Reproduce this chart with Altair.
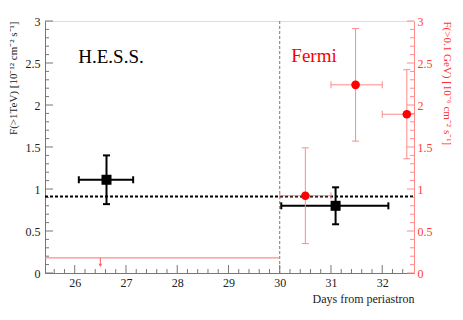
import altair as alt
import pandas as pd

# ---------------- data ----------------
hess_day = [26.62, 31.09]
hess_flux = [1.11, 0.80]
hess_xlo = [26.08, 30.03]
hess_xhi = [27.14, 32.12]
hess_ylo = [0.82, 0.58]
hess_yhi = [1.40, 1.02]

fermi_day = [30.50, 31.48, 32.48]
fermi_flux = [0.92, 2.24, 1.89]
fermi_xlo = [30.00, 31.00, 32.00]
fermi_xhi = [31.00, 32.00, 33.00]
fermi_ylo = [0.35, 1.57, 1.36]
fermi_yhi = [1.49, 2.91, 2.42]

ul_xlo, ul_xhi, ul_flux = [25.42], [30.0], [0.18]
arrow_day, arrow_top, arrow_bot = [26.5], [0.18], [0.09]

hess_mean = [0.91]
split_day = [30.0]

x_domain = [25.42, 32.62]
y_domain = [0, 3]
x_major = [26, 27, 28, 29, 30, 31, 32]
x_minor = [25.6, 25.8, 26.2, 26.4, 26.6, 26.8, 27.2, 27.4, 27.6, 27.8, 28.2, 28.4,
           28.6, 28.8, 29.2, 29.4, 29.6, 29.8, 30.2, 30.4, 30.6, 30.8, 31.2, 31.4,
           31.6, 31.8, 32.2, 32.4]
y_major = [0, 0.5, 1, 1.5, 2, 2.5, 3]
y_minor = [0.1, 0.2, 0.3, 0.4, 0.6, 0.7, 0.8, 0.9, 1.1, 1.2, 1.3, 1.4, 1.6, 1.7, 1.8,
           1.9, 2.1, 2.2, 2.3, 2.4, 2.6, 2.7, 2.8, 2.9]

W, H = 369, 252
FONT = "Liberation Serif"
RED = "#ff0000"
LRED = "#ff8a8a"
GRAY = "#777777"

hess = pd.DataFrame(dict(day=hess_day, flux=hess_flux, xlo=hess_xlo, xhi=hess_xhi,
                         ylo=hess_ylo, yhi=hess_yhi))
fermi = pd.DataFrame(dict(day=fermi_day, flux=fermi_flux, xlo=fermi_xlo, xhi=fermi_xhi,
                          ylo=fermi_ylo, yhi=fermi_yhi))
ul = pd.DataFrame(dict(xlo=ul_xlo, xhi=ul_xhi, flux=ul_flux))
arrow = pd.DataFrame(dict(day=arrow_day, top=arrow_top, bot=arrow_bot))
mean_df = pd.DataFrame(dict(flux=hess_mean))
split_df = pd.DataFrame(dict(day=split_day))
xmaj = pd.DataFrame(dict(v=x_major))
xmin_ = pd.DataFrame(dict(v=x_minor))
ymaj = pd.DataFrame(dict(v=y_major))
ymin_ = pd.DataFrame(dict(v=y_minor))

xs = alt.Scale(domain=x_domain, nice=False, zero=False)
ys = alt.Scale(domain=y_domain, nice=False, zero=False)

x_axis = alt.Axis(values=x_major, ticks=False, grid=False, domainColor=GRAY,
                  labelFont=FONT, labelFontSize=12, labelColor="#222",
                  labelPadding=4, title="Days from periastron", titleFont=FONT,
                  titleFontSize=12, titleFontWeight="normal", titleColor="#222",
                  titleAnchor="end", titlePadding=5, format="d")

left_axis = alt.Axis(values=y_major, ticks=False, grid=False, domainColor=GRAY,
                     labelFont=FONT, labelFontSize=12, labelColor="#222",
                     labelPadding=5, format="~g",
                     title="F(>1TeV) [10⁻¹² cm⁻² s⁻¹]", titleFont=FONT,
                     titleFontSize=11, titleFontWeight="normal", titleColor="#222",
                     titleAnchor="end", titlePadding=7)

right_axis = alt.Axis(orient="right", values=y_major, ticks=False, grid=False,
                      domainColor=LRED, labelFont=FONT, labelFontSize=12,
                      labelColor="#ff3a3a", labelPadding=3, format="~g",
                      title="F(>0.1 GeV) [10⁻⁶ cm⁻² s⁻¹]", titleFont=FONT,
                      titleFontSize=11, titleFontWeight="normal", titleColor="#ff3030",
                      titleAnchor="end", titleAlign="left", titlePadding=9)


def X(f):
    return alt.X(f, type="quantitative", scale=xs, axis=x_axis)


def YH(f):
    return alt.Y(f, type="quantitative", scale=ys, axis=left_axis)


def YF(f):
    return alt.Y(f, type="quantitative", scale=ys, axis=right_axis)


# ---------- HESS group (left axis) ----------
h_major = alt.Chart(ymaj).mark_rule(color=GRAY, strokeWidth=1).encode(
    y=YH("v:Q"), x=alt.value(0), x2=alt.value(8))
h_minor = alt.Chart(ymin_).mark_rule(color=GRAY, strokeWidth=1).encode(
    y=YH("v:Q"), x=alt.value(0), x2=alt.value(4))
x_maj_ticks = alt.Chart(xmaj).mark_rule(color=GRAY, strokeWidth=1).encode(
    x=X("v:Q"), y=alt.value(H), y2=alt.value(H - 8))
x_min_ticks = alt.Chart(xmin_).mark_rule(color=GRAY, strokeWidth=1).encode(
    x=X("v:Q"), y=alt.value(H), y2=alt.value(H - 4))
split_line = alt.Chart(split_df).mark_rule(color=GRAY, strokeWidth=1,
                                           strokeDash=[3, 2]).encode(
    x=X("day:Q"), y=alt.value(0), y2=alt.value(H))
mean_line = alt.Chart(mean_df).mark_rule(color="black", strokeWidth=2,
                                         strokeDash=[3, 2]).encode(
    y=YH("flux:Q"), x=alt.value(0), x2=alt.value(W))
h_xerr = alt.Chart(hess).mark_rule(color="black", strokeWidth=2).encode(
    x=X("xlo:Q"), x2="xhi:Q", y=YH("flux:Q"))
h_yerr = alt.Chart(hess).mark_rule(color="black", strokeWidth=2).encode(
    x=X("day:Q"), y=YH("ylo:Q"), y2="yhi:Q")
h_cap_xlo = alt.Chart(hess).mark_tick(orient="vertical", color="black", thickness=2,
                                      size=7, opacity=1).encode(
    x=X("xlo:Q"), y=YH("flux:Q"))
h_cap_xhi = alt.Chart(hess).mark_tick(orient="vertical", color="black", thickness=2,
                                      size=7, opacity=1).encode(
    x=X("xhi:Q"), y=YH("flux:Q"))
h_cap_ylo = alt.Chart(hess).mark_tick(orient="horizontal", color="black", thickness=2,
                                      size=7, opacity=1).encode(
    x=X("day:Q"), y=YH("ylo:Q"))
h_cap_yhi = alt.Chart(hess).mark_tick(orient="horizontal", color="black", thickness=2,
                                      size=7, opacity=1).encode(
    x=X("day:Q"), y=YH("yhi:Q"))
h_pts = alt.Chart(hess).mark_square(color="black", size=100, opacity=1).encode(
    x=X("day:Q"), y=YH("flux:Q"))
hess_text = alt.Chart(mean_df).mark_text(text="H.E.S.S.", font=FONT, fontSize=19,
                                         color="black", align="center",
                                         baseline="middle").encode(
    x=alt.value(66), y=alt.value(36))

hess_group = alt.layer(h_major, h_minor, x_maj_ticks, x_min_ticks, split_line,
                       mean_line, h_xerr, h_yerr, h_cap_xlo, h_cap_xhi, h_cap_ylo,
                       h_cap_yhi, h_pts, hess_text)

# ---------- Fermi group (right axis) ----------
f_major = alt.Chart(ymaj).mark_rule(color=LRED, strokeWidth=1).encode(
    y=YF("v:Q"), x=alt.value(W), x2=alt.value(W - 7))
f_minor = alt.Chart(ymin_).mark_rule(color=LRED, strokeWidth=1).encode(
    y=YF("v:Q"), x=alt.value(W), x2=alt.value(W - 4))
ul_line = alt.Chart(ul).mark_rule(color=LRED, strokeWidth=1.3).encode(
    x=X("xlo:Q"), x2="xhi:Q", y=YF("flux:Q"))
arrow_stem = alt.Chart(arrow).mark_rule(color="#ff6060", strokeWidth=1).encode(
    x=X("day:Q"), y=YF("top:Q"), y2="bot:Q")
arrow_head = alt.Chart(arrow).mark_point(shape="triangle-down", color="#ff6060",
                                         filled=True, size=14, opacity=1).encode(
    x=X("day:Q"), y=YF("bot:Q"))
f_xerr = alt.Chart(fermi).mark_rule(color=LRED, strokeWidth=1, clip=True).encode(
    x=X("xlo:Q"), x2="xhi:Q", y=YF("flux:Q"))
f_yerr = alt.Chart(fermi).mark_rule(color=LRED, strokeWidth=1).encode(
    x=X("day:Q"), y=YF("ylo:Q"), y2="yhi:Q")
f_cap_xlo = alt.Chart(fermi).mark_tick(orient="vertical", color=LRED, thickness=1,
                                       size=7, opacity=1, clip=True).encode(
    x=X("xlo:Q"), y=YF("flux:Q"))
f_cap_xhi = alt.Chart(fermi).mark_tick(orient="vertical", color=LRED, thickness=1,
                                       size=7, opacity=1, clip=True).encode(
    x=X("xhi:Q"), y=YF("flux:Q"))
f_cap_ylo = alt.Chart(fermi).mark_tick(orient="horizontal", color=LRED, thickness=1,
                                       size=7, opacity=1).encode(
    x=X("day:Q"), y=YF("ylo:Q"))
f_cap_yhi = alt.Chart(fermi).mark_tick(orient="horizontal", color=LRED, thickness=1,
                                       size=7, opacity=1).encode(
    x=X("day:Q"), y=YF("yhi:Q"))
f_pts = alt.Chart(fermi).mark_circle(color=RED, size=75, opacity=1).encode(
    x=X("day:Q"), y=YF("flux:Q"))
fermi_text = alt.Chart(mean_df).mark_text(text="Fermi", font=FONT, fontSize=19,
                                          color=RED, align="center",
                                          baseline="middle").encode(
    x=alt.value(269), y=alt.value(35))

fermi_group = alt.layer(f_major, f_minor, ul_line, arrow_stem, arrow_head,
                        f_xerr, f_yerr, f_cap_xlo, f_cap_xhi, f_cap_ylo, f_cap_yhi,
                        f_pts, fermi_text)

chart = alt.layer(hess_group, fermi_group).resolve_scale(y="independent").properties(
    width=W, height=H,
    autosize=alt.AutoSizeParams(type="none"),
    padding={"left": 37, "top": 13, "right": 41, "bottom": 39},
).configure_view(stroke=GRAY, strokeWidth=1).configure(background="white")

chart.save("out.html", embed_options={"renderer": "svg", "actions": False})
